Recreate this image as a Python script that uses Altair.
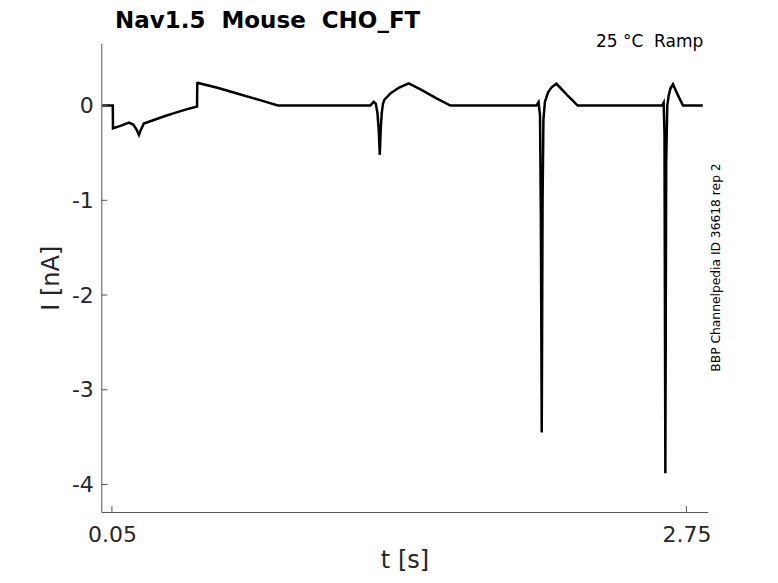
import altair as alt
import pandas as pd

# ---- data ----
t_s = [0.005, 0.054, 0.055, 0.09, 0.13, 0.15, 0.165, 0.177, 0.185, 0.2, 0.25, 0.3,
       0.35, 0.4, 0.45, 0.451, 0.452, 0.55, 0.65, 0.75, 0.83, 1.0, 1.2, 1.265, 1.28,
       1.29, 1.298, 1.304, 1.309, 1.313, 1.318, 1.324, 1.33, 1.36, 1.40, 1.445, 1.50,
       1.58, 1.641, 1.8, 2.0, 2.045, 2.055, 2.062, 2.066, 2.07, 2.074, 2.078, 2.085,
       2.1, 2.115, 2.139, 2.19, 2.239, 2.4, 2.6, 2.636, 2.643, 2.647, 2.651, 2.655,
       2.66, 2.667, 2.675, 2.687, 2.71, 2.734, 2.78, 2.827]
i_nA = [0.0, 0.0, -0.24, -0.215, -0.18, -0.2, -0.25, -0.31, -0.26, -0.19, -0.15, -0.11,
        -0.075, -0.04, -0.01, 0.245, 0.24, 0.185, 0.12, 0.055, 0.0, 0.0, 0.0, 0.0, 0.04,
        0.02, -0.08, -0.26, -0.52, -0.26, -0.08, 0.02, 0.06, 0.13, 0.19, 0.235, 0.17,
        0.07, 0.0, 0.0, 0.0, 0.0, 0.035, -0.1, -1.2, -3.45, -1.0, -0.15, 0.04,
        0.14, 0.19, 0.23, 0.11, 0.0, 0.0, 0.0, 0.0, 0.03, -0.3, -3.88, -0.6,
        0.0, 0.11, 0.18, 0.225, 0.11, 0.0, 0.0, 0.0]

x_ticks = [0.05, 2.75]
y_ticks = [0, -1, -2, -3, -4]
NB = "\u00a0"
title_text = "Nav1.5 " + NB + "Mouse " + NB + "CHO_FT"
cond_text = "25 °C " + NB + "Ramp"
side_text = "BBP Channelpedia ID 36618 rep 2"

df = pd.DataFrame({"t": t_s, "I": i_nA})
df_xt = pd.DataFrame({"t": x_ticks})
df_yt = pd.DataFrame({"I": y_ticks})

W, H = 606.4, 468.5
FONT = "DejaVu Sans"
AX = "#555555"
LBL = "#262626"

xs = alt.Scale(domain=[0, 2.85], nice=False, zero=False)
ys = alt.Scale(domain=[-4.29, 0.655], nice=False, zero=False)

x_axis = alt.Axis(values=x_ticks, labelExpr="format(datum.value, '.2f')", title="t [s]",
                  ticks=False, tickSize=0, labelPadding=30, labelBaseline="alphabetic",
                  titleBaseline="alphabetic", titleY=55.5, grid=False)
y_axis = alt.Axis(values=y_ticks, labelExpr="toString(datum.value)", title="I [nA]",
                  ticks=False, tickSize=0, labelPadding=8, grid=False,
                  titleAngle=270, titleBaseline="alphabetic", titleX=-42.6,
                  titleY=H / 2, titleAlign="center")

line = alt.Chart(df).mark_line(color="black", strokeWidth=2.5, clip=True).encode(
    x=alt.X("t:Q", scale=xs, axis=x_axis, title="t [s]"),
    y=alt.Y("I:Q", scale=ys, axis=y_axis, title="I [nA]"),
)

xtick = alt.Chart(df_xt).mark_rule(color=AX, strokeWidth=1).encode(
    x=alt.X("t:Q", scale=xs, title="t [s]"),
    y=alt.value(H), y2=alt.value(H - 6),
)
ytick = alt.Chart(df_yt).mark_rule(color=AX, strokeWidth=1).encode(
    y=alt.Y("I:Q", scale=ys, title="I [nA]"),
    x=alt.value(0), x2=alt.value(6),
)

title_mark = alt.Chart(pd.DataFrame({"s": [title_text]})).mark_text(
    align="left", baseline="alphabetic", font=FONT, fontSize=23, fontWeight="bold",
    color="black").encode(text="s:N", x=alt.value(13.7), y=alt.value(-15.5))

cond_mark = alt.Chart(pd.DataFrame({"s": [cond_text]})).mark_text(
    align="right", baseline="alphabetic", font=FONT, fontSize=17, color="black"
).encode(text="s:N", x=alt.value(602), y=alt.value(3.2))

side_mark = alt.Chart(pd.DataFrame({"s": [side_text]})).mark_text(
    align="center", baseline="alphabetic", font=FONT, fontSize=12.3, angle=270,
    color="black").encode(text="s:N", x=alt.value(618.7), y=alt.value(224))

chart = alt.layer(line, xtick, ytick, title_mark, cond_mark, side_mark).properties(
    width=W, height=H,
    autosize=alt.AutoSizeParams(type="none"),
    padding={"left": 93.3, "top": 35.5, "right": 55, "bottom": 63},
).configure_view(stroke=None).configure_axis(
    domainColor=AX, domainWidth=1, labelFont=FONT, labelFontSize=22, labelColor=LBL,
    titleFont=FONT, titleFontSize=24, titleFontWeight="normal", titleColor=LBL,
)

chart.save("out.html", embed_options={"renderer": "svg", "actions": False})
